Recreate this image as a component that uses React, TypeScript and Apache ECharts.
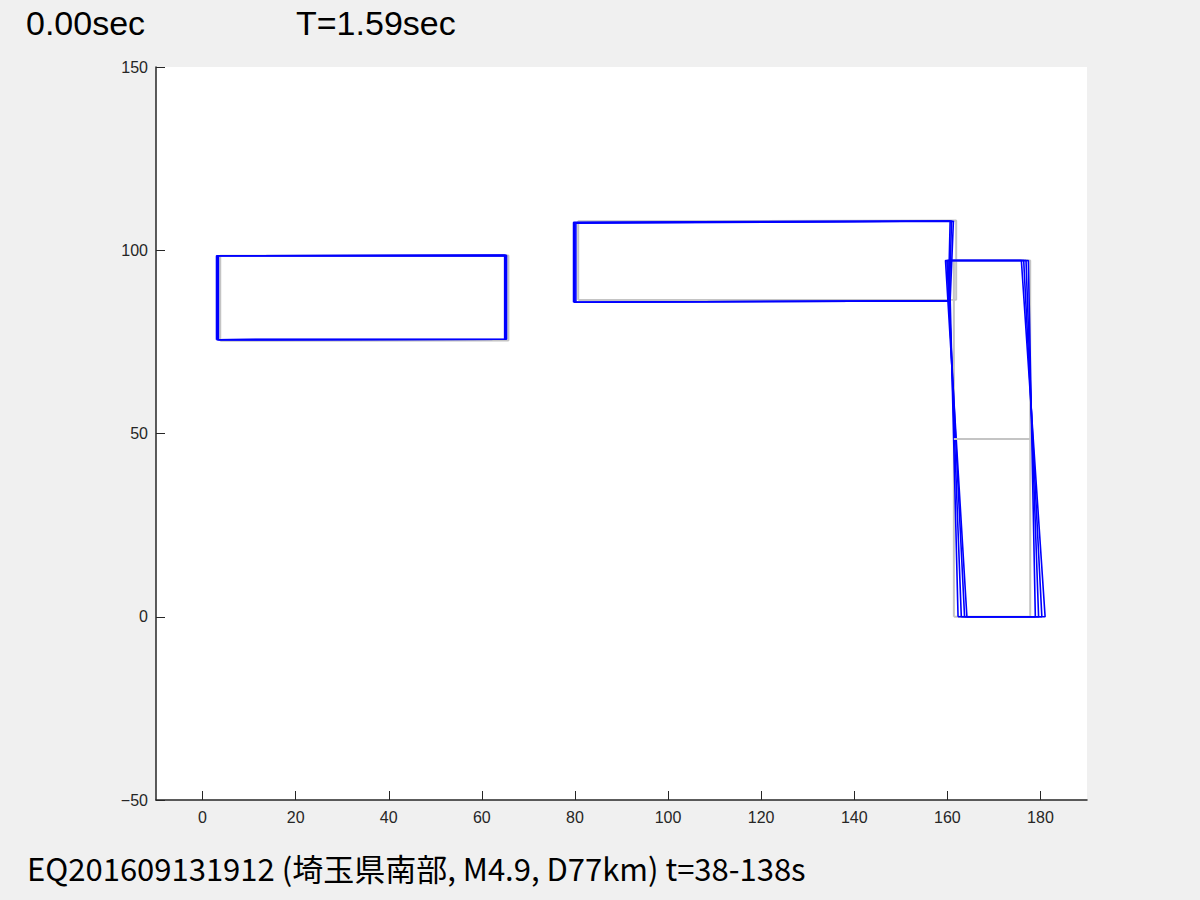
import React, { useEffect, useRef } from "react";
import * as echarts from "echarts";

// ---- Axis ticks ----
const xTicks = [0, 20, 40, 60, 80, 100, 120, 140, 160, 180];
const yTicks = [-50, 0, 50, 100, 150];

// ---- Texts ----
const timeText = "0.00sec";
const periodText = "T=1.59sec";
const captionText = "EQ201609131912 (埼玉県南部, M4.9, D77km) t=38-138s";

// ---- Undeformed (gray) outlines ----
const bldg1Gray = [[3.8, 75.3], [3.8, 98.5], [65.7, 98.6], [65.7, 75.4], [3.8, 75.3]];
const bldg2Gray = [[80.7, 86.4], [80.7, 107.9], [161.9, 108.1], [161.9, 86.5], [80.7, 86.4]];
const bldg3Gray = [[161.4, 0], [161.4, 97.2], [177.8, 97.2], [177.8, 0], [161.4, 0]];
const bldg3FloorGray = [[161.4, 48.5], [177.8, 48.5]];

// ---- Deformed (blue) outlines, several time frames ----
const bldg1Blue = [
  [[3.0, 75.6], [3.0, 98.5], [64.9, 98.6], [64.9, 75.7], [3.0, 75.6]],
  [[3.2, 75.6], [3.2, 98.5], [65.1, 98.6], [65.1, 75.7], [3.2, 75.6]],
  [[3.4, 75.6], [3.4, 98.5], [65.3, 98.6], [65.3, 75.7], [3.4, 75.6]],
];
const bldg2Blue = [
  [[79.7, 85.8], [79.7, 107.6], [160.6, 108.0], [160.2, 86.2], [79.7, 85.8]],
  [[79.9, 85.8], [79.9, 107.5], [160.9, 108.0], [160.4, 86.2], [79.9, 85.8]],
  [[80.2, 85.8], [80.2, 107.4], [161.3, 107.9], [160.6, 86.2], [80.2, 85.8]],
];
const bldg3Blue = [
  [[162.3, 0], [160.4, 97.2], [177.4, 97.2], [178.9, 0], [162.3, 0]],
  [[163.0, 0], [160.1, 97.2], [176.9, 97.2], [179.6, 0], [163.0, 0]],
  [[163.7, 0], [159.9, 97.2], [176.4, 97.2], [180.3, 0], [163.7, 0]],
  [[164.2, 0], [159.6, 97.2], [175.9, 97.2], [181.0, 0], [164.2, 0]],
];
const bldg3FloorBlue = [[161.8, 48.5], [177.6, 48.5]];

const GRAY = "#c4c4c4";
const BLUE = "#0000ff";
const AXIS = "#262626";

function lineSeries(data: number[][], color: string, width: number, z: number, opacity = 1) {
  return {
    type: "line",
    data,
    symbol: "none",
    showSymbol: false,
    silent: true,
    z,
    lineStyle: { color, width, opacity },
  };
}

export default function App() {
  const ref = useRef<HTMLDivElement>(null);

  useEffect(() => {
    if (!ref.current) return;
    const chart = echarts.init(ref.current, null, { renderer: "svg" });

    const series: any[] = [];
    [bldg1Gray, bldg2Gray, bldg3Gray].forEach((d) => series.push(lineSeries(d, GRAY, 2, 2)));
    [...bldg1Blue, ...bldg2Blue, ...bldg3Blue].forEach((d) => series.push(lineSeries(d, BLUE, 1.6, 3)));
    series.push(lineSeries(bldg3FloorBlue, BLUE, 1.2, 3, 0.5));
    series.push(lineSeries(bldg3FloorGray, GRAY, 2, 4));

    chart.setOption({
      animation: false,
      backgroundColor: "#f0f0f0",
      grid: {
        left: 156,
        top: 67,
        width: 931,
        height: 733,
        show: true,
        backgroundColor: "#ffffff",
        borderWidth: 0,
      },
      xAxis: {
        type: "value",
        min: -10,
        max: 190,
        axisLine: { show: true, onZero: false, lineStyle: { color: AXIS, width: 1.5 } },
        axisTick: {
          show: true,
          inside: true,
          length: 9,
          customValues: xTicks,
          lineStyle: { color: AXIS, width: 1 },
        },
        axisLabel: {
          customValues: xTicks,
          color: AXIS,
          fontSize: 16,
          fontFamily: "Liberation Sans",
          margin: 9,
        },
        splitLine: { show: false },
      },
      yAxis: {
        type: "value",
        min: -50,
        max: 150,
        interval: 50,
        axisLine: { show: true, onZero: false, lineStyle: { color: AXIS, width: 1.5 } },
        axisTick: {
          show: true,
          inside: true,
          length: 9,
          customValues: yTicks,
          lineStyle: { color: AXIS, width: 1 },
        },
        axisLabel: {
          customValues: yTicks,
          color: AXIS,
          fontSize: 16,
          fontFamily: "Liberation Sans",
          margin: 8,
          formatter: (v: number) => (v < 0 ? "\u2212" + Math.abs(v) : String(v)),
        },
        splitLine: { show: false },
      },
      graphic: [
        {
          type: "text",
          x: 26,
          y: 23,
          style: {
            text: timeText,
            font: '34px "Liberation Sans"',
            fill: "#000",
            textVerticalAlign: "middle",
            verticalAlign: "middle",
          },
        },
        {
          type: "text",
          x: 296,
          y: 23,
          style: {
            text: periodText,
            font: '34px "Liberation Sans"',
            fill: "#000",
            textVerticalAlign: "middle",
            verticalAlign: "middle",
          },
        },
        {
          type: "text",
          x: 27,
          y: 867,
          style: {
            text: captionText,
            font: '31px "Noto Sans CJK JP"',
            fill: "#000",
            textVerticalAlign: "middle",
            verticalAlign: "middle",
          },
        },
      ],
      series,
    });

    return () => chart.dispose();
  }, []);

  return (
    <div
      ref={ref}
      style={{ position: "fixed", left: 0, top: 0, width: 1200, height: 900, background: "#f0f0f0" }}
    />
  );
}
